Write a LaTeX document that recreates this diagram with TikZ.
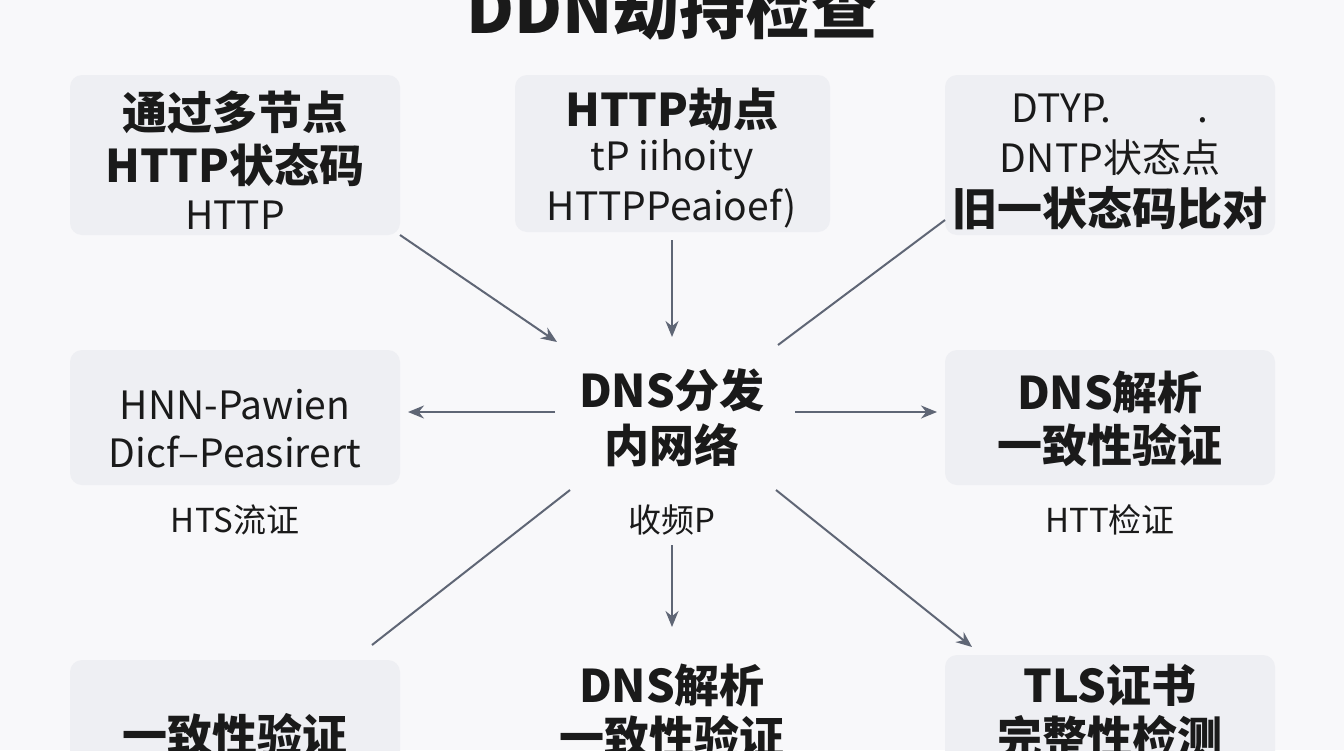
\documentclass[tikz,border=0pt]{standalone}
\usepackage{fontspec}
\setmainfont{Noto Sans CJK SC}
\usetikzlibrary{arrows.meta}
\definecolor{bg}{HTML}{F8F8FA}
\definecolor{boxc}{HTML}{EEEFF3}
\definecolor{arr}{HTML}{5F6675}
\definecolor{txt}{HTML}{1A1A1A}
\begin{document}
\begin{tikzpicture}[x=1pt,y=-1pt,
  box/.style={fill=boxc,rounded corners=12pt,draw=none},
  big/.style={font=\fontsize{45}{47}\selectfont\bfseries,text=txt,inner sep=0},
  reg/.style={font=\fontsize{39}{41}\selectfont,text=txt,inner sep=0},
  sm/.style={font=\fontsize{33}{35}\selectfont,text=txt,inner sep=0},
  ar/.style={draw=arr,line width=2pt,-{Stealth[length=16pt,width=13pt]}},
  ln/.style={draw=arr,line width=2pt}]
\useasboundingbox (0,0) rectangle (1344,750);
\fill[bg] (0,0) rectangle (1344,750);
\node[font=\fontsize{66}{68}\selectfont\bfseries,text=txt,inner sep=0] (title) at (672,8) {DDN劫持检查};
% boxes
\fill[box] (70,75) rectangle (400,235);
\fill[box] (515,75) rectangle (830,232);
\fill[box] (945,75) rectangle (1275,235);
\fill[box] (70,350) rectangle (400,485);
\fill[box] (945,350) rectangle (1275,485);
\fill[box] (70,660) rectangle (400,770);
\fill[box] (945,655) rectangle (1275,770);
% TL
\node[big] (tl1) at (235,112) {通过多节点};
\node[big] (tl2) at (235,165) {HTTP状态码};
\node[reg] (tl3) at (235,215) {HTTP};
% TC
\node[big] (tc1) at (672,110) {HTTP劫点};
\node[reg] (tc2) at (672,160) {tP iihoity};
\node[reg] (tc3) at (672,208) {HTTPPeaioef)};
% TR
\node[reg] (tr1) at (1110,108) {DTYP.\hspace{2.2em}.};
\node[reg] (tr2) at (1110,158) {DNTP状态点};
\node[big] (tr3) at (1110,208) {旧一状态码比对};
% ML
\node[reg] (ml1) at (235,405) {HNN-Pawien};
\node[reg] (ml2) at (235,452) {Dicf–Peasirert};
\node[sm] (ml3) at (235,520) {HTS流证};
% center
\node[big] (c1) at (672,390) {DNS分发};
\node[big] (c2) at (672,445) {内网络};
\node[sm] (c3) at (672,520) {收频P};
% MR
\node[big] (mr1) at (1110,392) {DNS解析};
\node[big] (mr2) at (1110,445) {一致性验证};
\node[sm] (mr3) at (1110,520) {HTT检证};
% bottom
\node[big] (bl1) at (235,735) {一致性验证};
\node[big] (bc1) at (672,685) {DNS解析};
\node[big] (bc2) at (672,737) {一致性验证};
\node[big] (br1) at (1110,685) {TLS证书};
\node[big] (br2) at (1110,737) {完整性检测};
% connectors
\coordinate (a1s) at (400,235); \coordinate (a1e) at (557,342);
\draw[ar] (a1s) -- (a1e);
\coordinate (a2s) at (672,240); \coordinate (a2e) at (672,337);
\draw[ar] (a2s) -- (a2e);
\coordinate (a3s) at (945,220); \coordinate (a3e) at (778,345);
\draw[ln] (a3s) -- (a3e);
\coordinate (a4s) at (555,412); \coordinate (a4e) at (408,412);
\draw[ar] (a4s) -- (a4e);
\coordinate (a5s) at (795,412); \coordinate (a5e) at (937,412);
\draw[ar] (a5s) -- (a5e);
\coordinate (a6s) at (672,545); \coordinate (a6e) at (672,627);
\draw[ar] (a6s) -- (a6e);
\coordinate (a7s) at (776,490); \coordinate (a7e) at (972,647);
\draw[ar] (a7s) -- (a7e);
\coordinate (a8s) at (570,490); \coordinate (a8e) at (372,645);
\draw[ln] (a8s) -- (a8e);
\end{tikzpicture}
\end{document}
